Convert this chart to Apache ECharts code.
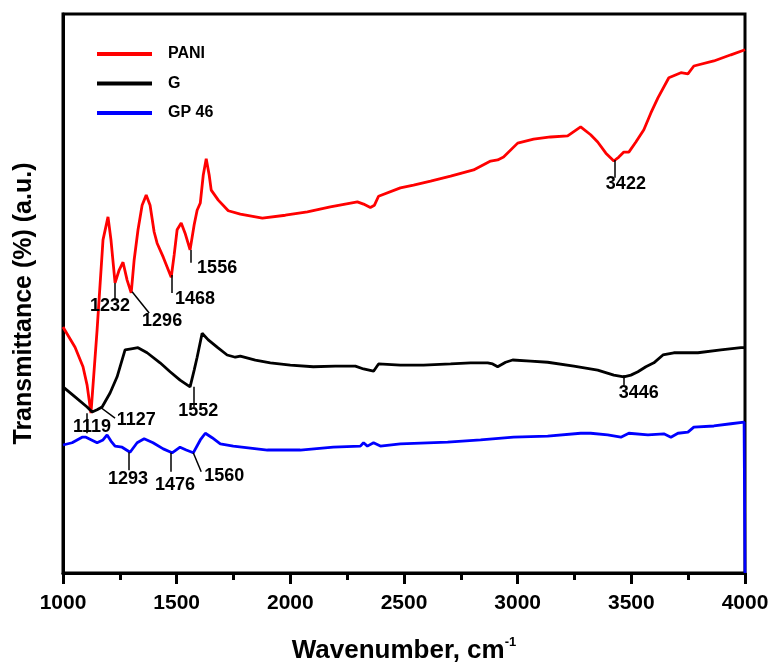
<!DOCTYPE html>
<html>
<head>
<meta charset="utf-8">
<script src="https://cdn.jsdelivr.net/npm/echarts@6/dist/echarts.min.js"></script>
<style>
  html, body { margin: 0; padding: 0; background: #fff; }
  #chart01 { width: 771px; height: 665px; }
</style>
</head>
<body>
<div id="chart01"></div>
<script>
// FTIR spectra: [wavenumber, transmittance (a.u.)]
var pani = [
  [1000,44.0],[1053,40.4],[1088,36.9],[1106,33.6],[1123,28.6],[1150,43.5],[1176,59.6],[1198,63.7],
  [1211,59.6],[1229,51.9],[1247,54.2],[1264,55.6],[1282,52.4],[1300,50.1],[1313,56.0],[1330,61.4],
  [1348,65.8],[1366,67.6],[1383,65.8],[1401,61.0],[1414,59.0],[1441,56.5],[1476,52.9],[1489,56.9],
  [1502,61.4],[1520,62.6],[1537,60.8],[1559,57.8],[1577,62.3],[1590,64.9],[1604,66.2],[1617,71.2],
  [1630,74.1],[1643,71.2],[1652,68.5],[1683,66.7],[1727,64.8],[1780,64.2],[1877,63.5],[1978,64.0],
  [2075,64.6],[2176,65.5],[2295,66.4],[2322,66.0],[2352,65.4],[2370,65.8],[2388,67.4],[2484,68.9],
  [2542,69.4],[2617,70.1],[2705,71.0],[2806,72.1],[2881,73.7],[2912,73.9],[2938,74.4],[3000,76.9],
  [3070,77.6],[3145,78.0],[3220,78.2],[3277,79.8],[3321,78.4],[3352,77.1],[3388,75.1],[3423,73.7],
  [3445,74.4],[3467,75.3],[3489,75.3],[3520,77.1],[3555,79.3],[3586,82.3],[3617,85.0],[3665,88.6],
  [3718,89.5],[3749,89.3],[3775,90.7],[3863,91.6],[3938,92.7],[4000,93.6]
];
var g = [
  [1000,33.3],[1053,31.5],[1106,29.7],[1128,28.8],[1150,29.2],[1172,29.7],[1207,32.2],[1238,35.1],
  [1273,39.9],[1300,40.1],[1330,40.3],[1370,39.4],[1427,37.6],[1471,36.0],[1515,34.5],[1559,33.3],
  [1577,36.3],[1590,38.6],[1612,42.9],[1639,41.7],[1678,40.4],[1722,39.0],[1758,38.6],[1780,38.8],
  [1846,38.1],[1912,37.6],[2000,37.2],[2101,36.9],[2198,37.0],[2286,37.0],[2322,36.5],[2366,36.1],
  [2388,37.4],[2484,37.2],[2586,37.2],[2705,37.4],[2793,37.6],[2868,37.6],[2890,37.4],[2912,36.9],
  [2947,37.7],[2978,38.1],[3057,37.9],[3132,37.7],[3247,37.0],[3352,36.3],[3423,35.4],[3467,35.1],
  [3498,35.4],[3529,36.0],[3564,36.9],[3599,37.6],[3639,39.0],[3687,39.4],[3793,39.4],[3894,39.9],
  [3982,40.3],[4000,40.3]
];
var gp46 = [
  [1000,22.9],[1040,23.3],[1084,24.3],[1101,24.3],[1150,23.3],[1176,23.8],[1194,24.7],[1211,23.6],
  [1229,22.7],[1260,22.5],[1295,21.6],[1326,23.3],[1357,24.0],[1396,23.3],[1441,22.2],[1480,21.5],
  [1515,22.5],[1542,22.0],[1573,21.5],[1604,23.8],[1626,25.0],[1656,24.2],[1692,23.1],[1749,22.7],
  [1899,22.0],[2044,22.0],[2189,22.5],[2308,22.7],[2322,23.3],[2339,22.7],[2366,23.3],[2396,22.7],
  [2484,23.1],[2692,23.4],[2837,23.8],[2982,24.3],[3132,24.5],[3277,25.0],[3321,25.0],[3396,24.7],
  [3454,24.3],[3489,25.0],[3573,24.7],[3643,24.9],[3674,24.3],[3705,25.0],[3749,25.2],[3775,26.1],
  [3863,26.3],[3938,26.7],[3996,27.0],[4000,0]
];
var seriesNames = ['PANI', 'G', 'GP 46'];
var xTicks = [1000, 1500, 2000, 2500, 3000, 3500, 4000];

// peak annotations: text, leader line (from curve -> end), label centre
var peaksPani = [
  { text: '1119', from: [1106, 28.6], to: [1106, 25.0], at: [1128, 26.1] },
  { text: '1232', from: [1229, 51.9], to: [1229, 48.8], at: [1207, 47.8] },
  { text: '1296', from: [1304, 50.3], to: [1379, 46.5], at: [1436, 45.1] },
  { text: '1468', from: [1480, 53.3], to: [1480, 50.1], at: [1581, 49.0] },
  { text: '1556', from: [1564, 57.8], to: [1564, 55.5], at: [1678, 54.6] },
  { text: '3422', from: [3427, 73.9], to: [3427, 70.7], at: [3476, 69.6] }
];
var peaksG = [
  { text: '1127', from: [1163, 29.7], to: [1229, 27.7], at: [1322, 27.4] },
  { text: '1552', from: [1573, 33.3], to: [1573, 29.7], at: [1595, 29.0] },
  { text: '3446', from: [3467, 35.4], to: [3467, 33.6], at: [3533, 32.2] }
];
var peaksGp = [
  { text: '1293', from: [1291, 21.6], to: [1291, 18.4], at: [1286, 16.8] },
  { text: '1476', from: [1476, 21.5], to: [1476, 18.1], at: [1493, 15.7] },
  { text: '1560', from: [1573, 21.5], to: [1608, 18.1], at: [1709, 17.4] }
];

var FONT = '"Liberation Sans", Arial, sans-serif';

function leaders(peaks) {
  return {
    silent: true,
    symbol: 'none',
    animation: false,
    lineStyle: { color: '#000', width: 1.5, type: 'solid' },
    label: { show: false },
    emphasis: { disabled: true },
    data: peaks.map(function (p) { return [{ coord: p.from }, { coord: p.to }]; })
  };
}
function peakLabels(peaks) {
  return {
    silent: true,
    symbol: 'circle',
    symbolSize: 0,
    animation: false,
    label: {
      show: true, position: 'inside', color: '#000',
      fontFamily: FONT, fontWeight: 'bold', fontSize: 18,
      formatter: '{b}'
    },
    data: peaks.map(function (p) { return { name: p.text, coord: p.at }; })
  };
}
function line(name, data, color, peaks) {
  return {
    name: name,
    type: 'line',
    data: data,
    showSymbol: false,
    symbol: 'none',
    animation: false,
    lineStyle: { color: color, width: 2.8 },
    itemStyle: { color: color },
    markLine: leaders(peaks),
    markPoint: peakLabels(peaks)
  };
}

var chart01 = echarts.init(document.getElementById('chart01'));
var option = {
  backgroundColor: '#fff',
  //图例
  legend: {
    data: seriesNames,
    orient: 'vertical',
    left: 92,
    top: 40,
    icon: 'rect',
    itemWidth: 55,
    itemHeight: 4,
    itemGap: 11.5,
    textStyle: {
      fontFamily: FONT, fontWeight: 'bold', fontSize: 16, color: '#000',
      lineHeight: 18, padding: [0, 0, 0, 11]
    }
  },
  grid: {
    left: 63, right: 26, top: 14, bottom: 92,
    outerBoundsMode: 'none',
    containLabel: false,
    show: true, borderColor: '#000', borderWidth: 3
  },
  // x轴
  xAxis: {
    type: 'value',
    min: 1000, max: 4000, interval: 500,
    name: '{a|Wavenumber, cm}{b|-1}',
    nameLocation: 'middle',
    nameGap: 63,
    nameTextStyle: {
      rich: {
        a: { fontFamily: FONT, fontWeight: 'bold', fontSize: 26, color: '#000' },
        b: { fontFamily: FONT, fontWeight: 'bold', fontSize: 13, color: '#000', padding: [0, 0, 17, 0] }
      }
    },
    axisLine: { show: true, lineStyle: { color: '#000', width: 3 } },
    axisTick: { show: true, inside: false, length: 11, lineStyle: { color: '#000', width: 3 } },
    minorTick: { show: true, splitNumber: 2, length: 7, lineStyle: { color: '#000', width: 3 } },
    splitLine: { show: false },
    axisLabel: {
      margin: 20, color: '#000', fontFamily: FONT, fontWeight: 'bold', fontSize: 21,
      formatter: function (v) { return xTicks.indexOf(v) > -1 ? String(v) : ''; }
    }
  },
  // y轴
  yAxis: {
    type: 'value',
    min: 0, max: 100,
    name: 'Transmittance (%) (a.u.)',
    nameLocation: 'middle',
    nameRotate: 90,
    nameGap: 26,
    nameTextStyle: {
      fontFamily: FONT, fontWeight: 'bold', fontSize: 25, color: '#000',
      padding: [0, 20, 0, 0]
    },
    axisLine: { show: true, lineStyle: { color: '#000', width: 3 } },
    axisTick: { show: false },
    axisLabel: { show: false },
    splitLine: { show: false }
  },
  // 数据
  series: [
    line('PANI', pani, '#ff0000', peaksPani),
    line('G', g, '#000000', peaksG),
    line('GP 46', gp46, '#0000ff', peaksGp)
  ]
};
chart01.setOption(option);
</script>
</body>
</html>
